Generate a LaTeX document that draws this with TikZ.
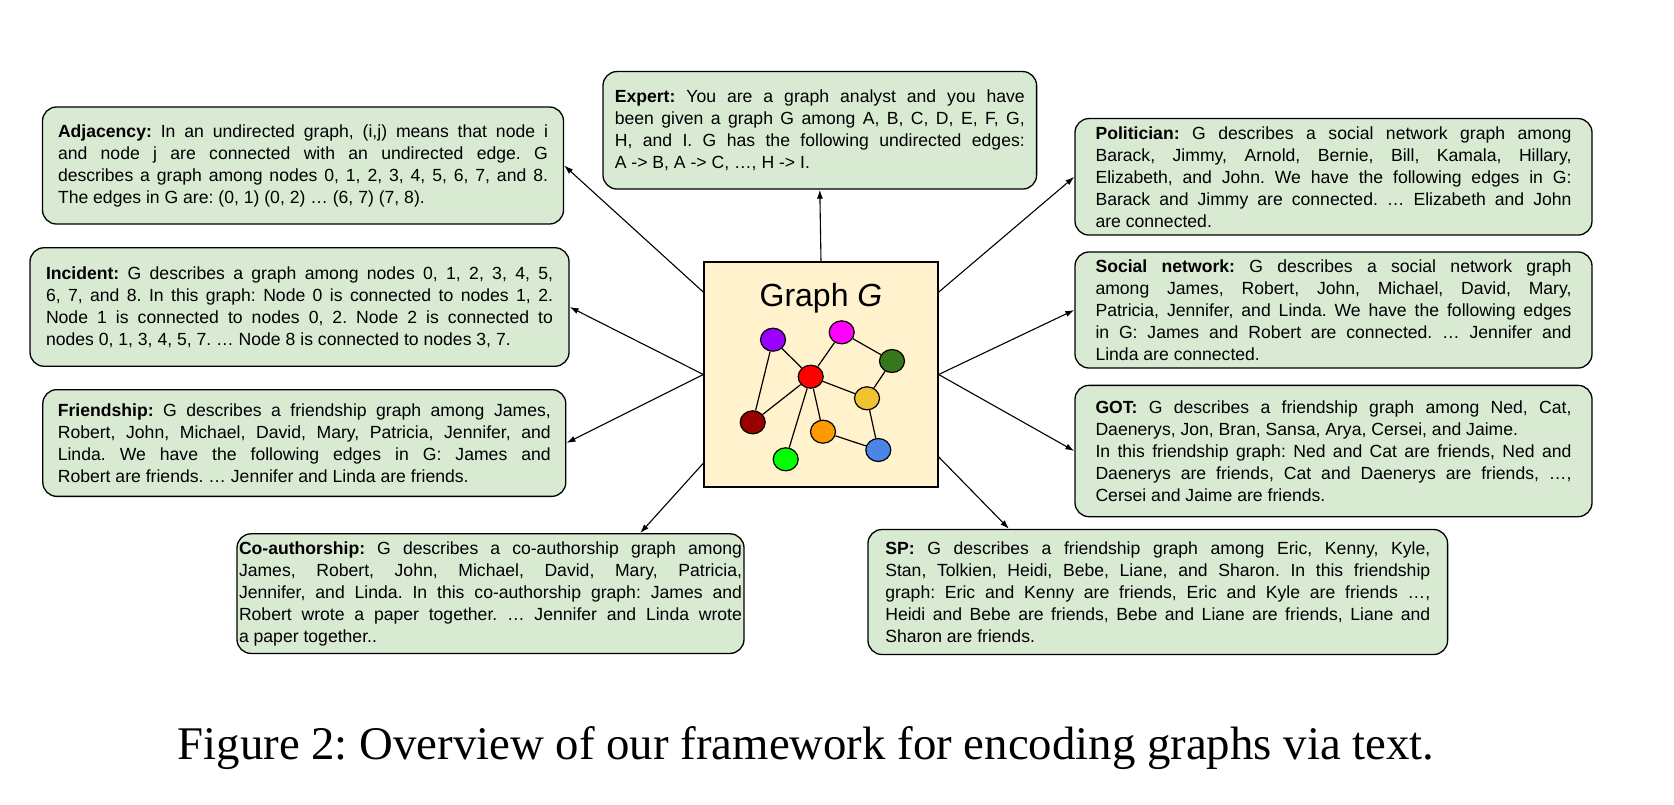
\documentclass[tikz,border=0pt]{standalone}
\usepackage{fontspec}
\setmainfont{Liberation Sans}
\newfontfamily\capfont{Liberation Serif}
\usetikzlibrary{positioning,arrows.meta,shapes.geometric}
\definecolor{encbox}{HTML}{D9EAD3}
\definecolor{graphbox}{HTML}{FFF2CC}
\definecolor{vpurple}{HTML}{9900FF}
\definecolor{vmagenta}{HTML}{FF00FF}
\definecolor{vdkgreen}{HTML}{38761D}
\definecolor{vred}{HTML}{FF0000}
\definecolor{vyellow}{HTML}{F1C232}
\definecolor{vdkred}{HTML}{990000}
\definecolor{vorange}{HTML}{FF9900}
\definecolor{vblue}{HTML}{4A86E8}
\definecolor{vgreen}{HTML}{00FF00}
\hyphenpenalty=10000
\exhyphenpenalty=10000
\tolerance=10000
\frenchspacing

\begin{document}
\begin{tikzpicture}[x=1pt, y=-1pt,
        encoding/.style={rectangle, rounded corners=14pt, draw=black,
        fill=encbox, line width=1.3pt, align=justify, inner xsep=0pt,
        inner ysep=0pt, font=\fontsize{17.6}{22}\selectfont},
        graphbox/.style={rectangle, draw=black, fill=graphbox, line
        width=1.3pt, minimum width=234pt, minimum height=225pt},
        vertex/.style={ellipse, draw=black, line width=1.2pt, minimum
        width=25pt, minimum height=23pt, inner sep=0pt},
        link/.style={line width=1.2pt},
        encarrow/.style={-{Latex[length=9pt,width=6pt]}, line width=1.1pt},
      ]
      \useasboundingbox (0, 0) rectangle (1674, 804);

      % Central graph box
      \node[graphbox] (graph) at (821, 374.5) {};
      \node[font=\fontsize{32}{38}\selectfont, anchor=base] (title) at (821,
      306) {Graph \textit{G}};

      % Vertices of the small example graph
      \node[vertex, fill=vpurple] (vpu) at (773, 339.7) {};
      \node[vertex, fill=vmagenta] (vma) at (841.7, 332.3) {};
      \node[vertex, fill=vdkgreen] (vdg) at (892, 361) {};
      \node[vertex, fill=vred] (vre) at (810.7, 376.7) {};
      \node[vertex, fill=vyellow] (vye) at (867, 398.3) {};
      \node[vertex, fill=vdkred] (vdr) at (752.7, 422.3) {};
      \node[vertex, fill=vorange] (vor) at (823, 431.7) {};
      \node[vertex, fill=vblue] (vbl) at (878.3, 450) {};
      \node[vertex, fill=vgreen] (vgr) at (785.7, 459.3) {};
      \draw[link] (vpu) -- (vre);
      \draw[link] (vpu) -- (vdr);
      \draw[link] (vma) -- (vre);
      \draw[link] (vma) -- (vdg);
      \draw[link] (vdg) -- (vye);
      \draw[link] (vre) -- (vye);
      \draw[link] (vre) -- (vdr);
      \draw[link] (vre) -- (vgr);
      \draw[link] (vre) -- (vor);
      \draw[link] (vor) -- (vbl);
      \draw[link] (vye) -- (vbl);

      % Text encodings - left column
      \node[encoding, minimum width=521pt, minimum height=117pt, text
      width=490pt] (adjacency) at (303, 165.5) {\textbf{Adjacency:} In an
      undirected graph, (i,j) means that node i\linebreak and node j are
      connected with an undirected edge. G\linebreak describes a graph
      among nodes 0, 1, 2, 3, 4, 5, 6, 7, and 8.\linebreak The edges in G
      are: (0, 1) (0, 2) … (6, 7) (7, 8).};
      \node[encoding, minimum width=539pt, minimum height=118.5pt, text
      width=507pt] (incident) at (299.5, 307) {\textbf{Incident:} G
      describes a graph among nodes 0, 1, 2, 3, 4, 5,\linebreak 6, 7, and
      8. In this graph: Node 0 is connected to nodes 1, 2.\linebreak Node
      1 is connected to nodes 0, 2. Node 2 is connected to\linebreak nodes
      0, 1, 3, 4, 5, 7. … Node 8 is connected to nodes 3, 7.};
      \node[encoding, minimum width=523pt, minimum height=106.7pt, text
      width=493pt] (friendship) at (304.3, 443) {\textbf{Friendship:} G
      describes a friendship graph among James,\linebreak Robert, John,
      Michael, David, Mary, Patricia, Jennifer, and\linebreak Linda. We
      have the following edges in G: James and\linebreak Robert are
      friends. … Jennifer and Linda are friends.};

      % Text encodings - top and bottom
      \node[encoding, minimum width=433.6pt, minimum height=117.5pt, text
      width=410pt] (expert) at (819.8, 130.3) {\textbf{Expert:} You are a
      graph analyst and you have\linebreak been given a graph G among A,
      B, C, D, E, F, G,\linebreak H, and I. G has the following undirected
      edges:\linebreak A -> B, A -> C, …, H -> I.};
      \node[encoding, minimum width=507pt, minimum height=119.6pt, text
      width=503pt] (coauth) at (490.5, 593.6) {\textbf{Co-authorship:} G
      describes a co-authorship graph among\linebreak James, Robert, John,
      Michael, David, Mary, Patricia,\linebreak Jennifer, and Linda. In
      this co-authorship graph: James and\linebreak Robert wrote a paper
      together. … Jennifer and Linda wrote\linebreak a paper together..};
      \node[encoding, minimum width=579.6pt, minimum height=125pt, text
      width=545pt] (sp) at (1157.8, 592) {\textbf{SP:} G describes a
      friendship graph among Eric, Kenny, Kyle,\linebreak Stan, Tolkien,
      Heidi, Bebe, Liane, and Sharon. In this friendship\linebreak graph:
      Eric and Kenny are friends, Eric and Kyle are friends …,\linebreak
      Heidi and Bebe are friends, Bebe and Liane are friends, Liane
      and\linebreak Sharon are friends.};

      % Text encodings - right column
      \node[encoding, minimum width=517pt, minimum height=116.5pt, text
      width=476pt] (politician) at (1333.5, 176.8) {\textbf{Politician:} G
      describes a social network graph among\linebreak Barack, Jimmy,
      Arnold, Bernie, Bill, Kamala, Hillary,\linebreak Elizabeth, and
      John. We have the following edges in G:\linebreak Barack and Jimmy
      are connected. … Elizabeth and John\linebreak are connected.};
      \node[encoding, minimum width=517pt, minimum height=116pt, text
      width=476pt] (social) at (1333.5, 310) {\textbf{Social network:} G
      describes a social network graph\linebreak among James, Robert,
      John, Michael, David, Mary,\linebreak Patricia, Jennifer, and Linda.
      We have the following edges\linebreak in G: James and Robert are
      connected. … Jennifer and\linebreak Linda are connected.};
      \node[encoding, minimum width=517pt, minimum height=131.3pt, text
      width=476pt] (got) at (1333.5, 451) {\textbf{GOT:} G describes a
      friendship graph among Ned, Cat,\linebreak Daenerys, Jon, Bran,
      Sansa, Arya, Cersei, and Jaime.\hfil\break In this friendship
      graph: Ned and Cat are friends, Ned and\linebreak Daenerys are
      friends, Cat and Daenerys are friends, …,\linebreak Cersei and Jaime
      are friends.};

      % Arrows from the graph to its encodings
      \draw[encarrow] (graph.north) -- (expert.south);
      \draw[encarrow] (graph.145) -- (adjacency.east);
      \draw[encarrow] (graph.west) -- (incident.east);
      \draw[encarrow] (graph.west) -- (friendship.east);
      \draw[encarrow] (graph.217) -- (coauth.22);
      \draw[encarrow] (graph.35) -- (politician.west);
      \draw[encarrow] (graph.east) -- (social.west);
      \draw[encarrow] (graph.east) -- (got.west);
      \draw[encarrow] (graph.325) -- (sp.157);

      % Caption
      \node[font=\capfont\fontsize{46.8}{56}\selectfont, anchor=base]
      (caption) at (806, 759) {Figure 2: Overview of our framework for
      encoding graphs via text.};
    \end{tikzpicture}
\end{document}
